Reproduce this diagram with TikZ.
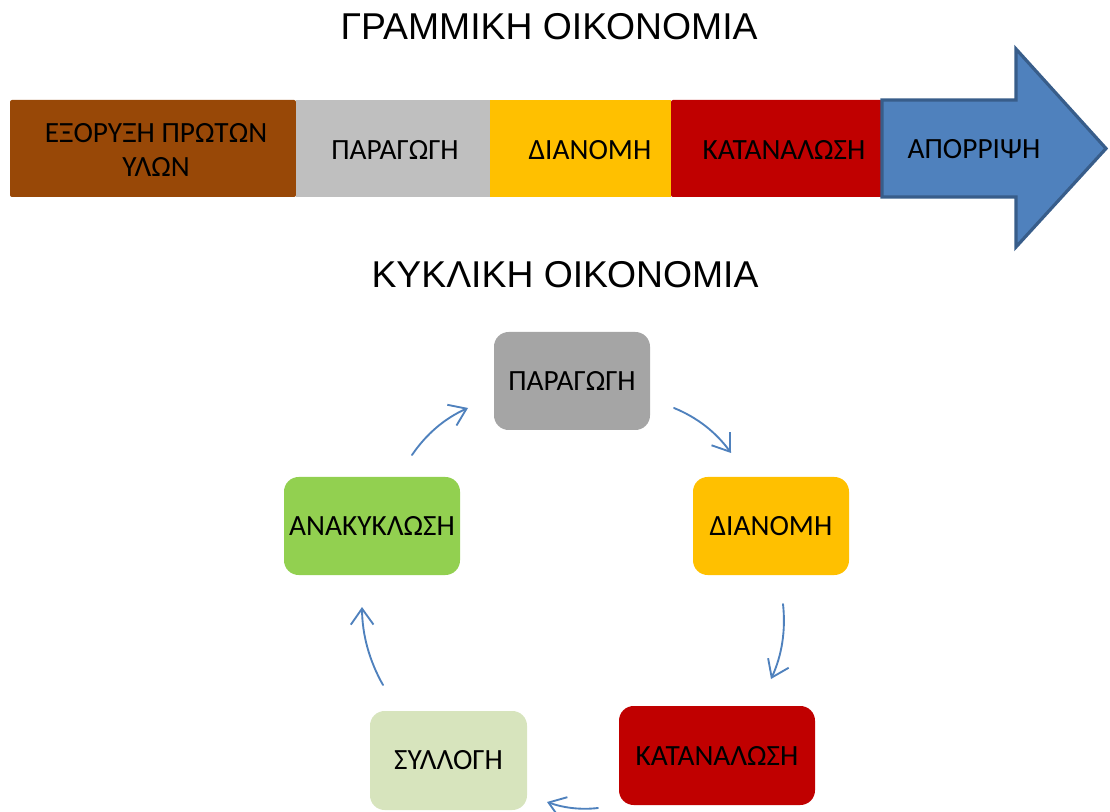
\documentclass[tikz,border=0pt]{standalone}
\usepackage{fontspec}
\setmainfont{Carlito}
\newfontfamily\titlefont{Liberation Sans}
\usetikzlibrary{arrows.meta}
\definecolor{cbrown}{HTML}{984807}
\definecolor{cgray}{HTML}{BFBFBF}
\definecolor{cyellow}{HTML}{FFC000}
\definecolor{cred}{HTML}{C00000}
\definecolor{cblue}{HTML}{4F81BD}
\definecolor{cbluedark}{HTML}{385D8A}
\definecolor{cdgray}{HTML}{A5A5A5}
\definecolor{cgreen}{HTML}{92D050}
\definecolor{clgreen}{HTML}{D7E4BD}
\tikzset{
  lbl/.style={font=\fontsize{22}{25.5}\selectfont, text=black, inner sep=0pt, align=center},
  ttl/.style={font=\titlefont\fontsize{28}{32}\selectfont, text=black, inner sep=0pt},
  barbox/.style={rectangle, inner sep=0pt, minimum height=72.75pt, rounded corners=1.5pt},
  cycbox/.style={rectangle, rounded corners=11pt, inner sep=0pt, lbl},
  cycarrow/.style={draw=cblue, line width=1.4pt, line cap=round, -{Straight Barb[length=12pt,width=17pt]}}
}
\begin{document}
\begin{tikzpicture}[x=0.75pt,y=-0.75pt]
\useasboundingbox (0,0) rectangle (1110,812);

% titles
\node[ttl] (t1) at (549,27) {ΓΡΑΜΜΙΚΗ ΟΙΚΟΝΟΜΙΑ};
\node[ttl] (t2) at (565,275) {ΚΥΚΛΙΚΗ ΟΙΚΟΝΟΜΙΑ};

% linear bar
\node[barbox, fill=cbrown, minimum width=214.5pt] (b1) at (153,148.5) {};
\node[barbox, fill=cgray, minimum width=145.5pt, rounded corners=0pt] (b2) at (393,148.5) {};
\node[barbox, fill=cyellow, minimum width=135.75pt, rounded corners=0pt] (b3) at (580.5,148.5) {};
\node[barbox, fill=cred, minimum width=158.25pt] (b4) at (776.5,148.5) {};
\draw[fill=cblue, draw=cbluedark, line width=2.4pt, line join=miter]
  (882,100) -- (1016,100) -- (1016,49) -- (1106,148.5) -- (1016,247) -- (1016,197) -- (882,197) -- cycle;

\node[lbl] (l1) at (156,150) {ΕΞΟΡΥΞΗ ΠΡΩΤΩΝ\\ΥΛΩΝ};
\node[lbl] (l2) at (395,150) {ΠΑΡΑΓΩΓΗ};
\node[lbl] (l3) at (590,150) {ΔΙΑΝΟΜΗ};
\node[lbl] (l4) at (784,150) {ΚΑΤΑΝΑΛΩΣΗ};
\node[lbl] (l5) at (974,149) {ΑΠΟΡΡΙΨΗ};

% cycle boxes
\node[cycbox, fill=cdgray, minimum width=117pt, minimum height=73.5pt] (p) at (572,381) {ΠΑΡΑΓΩΓΗ};
\node[cycbox, fill=cyellow, minimum width=117pt, minimum height=73.5pt] (d) at (771,526) {ΔΙΑΝΟΜΗ};
\node[cycbox, fill=cred, minimum width=147pt, minimum height=74.25pt] (k) at (717,755.5) {ΚΑΤΑΝΑΛΩΣΗ};
\node[cycbox, fill=clgreen, minimum width=117.75pt, minimum height=74.25pt] (s) at (448.5,760.5) {ΣΥΛΛΟΓΗ};
\node[cycbox, fill=cgreen, minimum width=132pt, minimum height=73.5pt] (a) at (372,526) {ΑΝΑΚΥΚΛΩΣΗ};

% arrow end points
\coordinate (a1s) at (412,455); \coordinate (a1e) at (468,408);
\coordinate (a2s) at (674,408); \coordinate (a2e) at (731,453);
\coordinate (a3s) at (783,604); \coordinate (a3e) at (771,679);
\coordinate (a4s) at (598,808); \coordinate (a4e) at (547,802);
\coordinate (a5s) at (383,685); \coordinate (a5e) at (362,607);

\draw[cycarrow] (a1s) .. controls (426.4,433.8) and (445,418.2) .. (a1e);
\draw[cycarrow] (a2s) .. controls (697.3,417.5) and (716.3,432.5) .. (a2e);
\draw[cycarrow] (a3s) .. controls (785.9,630.4) and (781.9,655.4) .. (a3e);
\draw[cycarrow] (a4s) .. controls (581,810) and (564,808) .. (a4e);
\draw[cycarrow] (a5s) .. controls (369.2,660.6) and (362.2,634.6) .. (a5e);
\end{tikzpicture}
\end{document}
